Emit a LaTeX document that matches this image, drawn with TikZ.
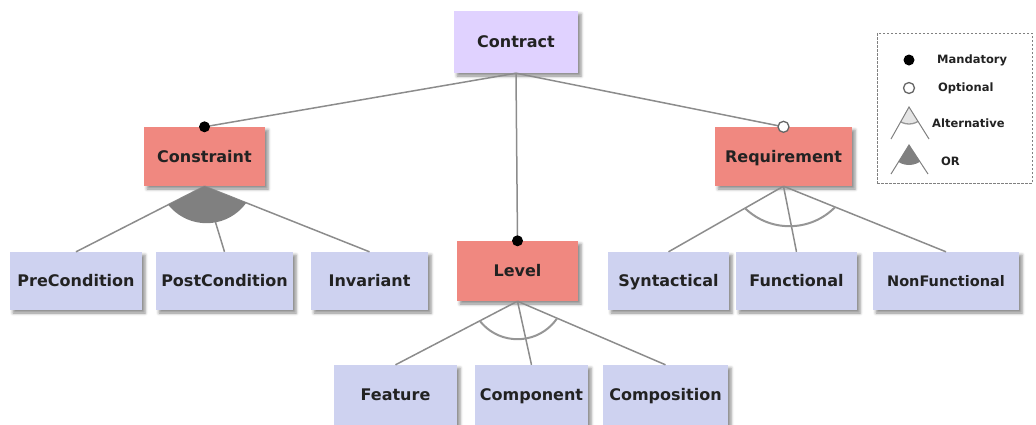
\documentclass[tikz,border=0pt]{standalone}
\usepackage{fontspec}
\setmainfont{DejaVu Sans}
\usetikzlibrary{shadows.blur}

\definecolor{rootfill}{RGB}{224,210,255}
\definecolor{featfill}{RGB}{240,136,128}
\definecolor{leaffill}{RGB}{206,210,240}
\definecolor{edgegray}{RGB}{140,140,140}
\definecolor{arcgray}{RGB}{150,150,150}
\definecolor{orgray}{RGB}{128,128,128}
\definecolor{txt}{RGB}{34,34,34}

\tikzset{
  box/.style={rectangle, inner sep=0pt, text=txt,
    font=\fontsize{16}{19}\selectfont\bfseries,
    text height=11.7pt, text depth=0pt,
    blur shadow={shadow xshift=3pt, shadow yshift=-3pt,
                 shadow blur radius=3pt, shadow opacity=45}},
  rootbox/.style={box, fill=rootfill},
  featbox/.style={box, fill=featfill},
  leafbox/.style={box, fill=leaffill},
  link/.style={draw=edgegray, line width=1.5pt},
  altarc/.style={draw=arcgray, line width=2pt},
  mand/.style={circle, fill=black, inner sep=0pt, minimum size=11pt},
  opt/.style={circle, fill=white, draw=gray!80!black, line width=1.3pt,
              inner sep=0pt, minimum size=11pt},
  legtext/.style={anchor=west, inner sep=0pt, text=txt,
                  font=\fontsize{11.5}{13}\selectfont\bfseries},
  legline/.style={draw=gray, line width=1pt},
}

\begin{document}
\begin{tikzpicture}[x=1pt, y=-1pt]
\useasboundingbox (0,0) rectangle (1036,424);

% ---- feature nodes
\node[rootbox, minimum width=124pt, minimum height=62pt] (contract) at (516,42) {Contract};

\node[featbox, minimum width=121pt, minimum height=59pt] (constraint) at (204.5,156.5) {Constraint};
\node[featbox, minimum width=137pt, minimum height=59pt] (requirement) at (783.5,156.5) {Requirement};
\node[featbox, minimum width=121pt, minimum height=60pt] (level) at (517.5,271) {Level};

\node[leafbox, minimum width=132pt, minimum height=58pt] (pre) at (76,281) {PreCondition};
\node[leafbox, minimum width=137pt, minimum height=58pt] (post) at (224.5,281) {PostCondition};
\node[leafbox, minimum width=117pt, minimum height=58pt] (inv) at (369.5,281) {Invariant};

\node[leafbox, minimum width=121pt, minimum height=58pt] (syn) at (668.5,281) {Syntactical};
\node[leafbox, minimum width=121pt, minimum height=58pt] (fun) at (796.5,281) {Functional};
\node[leafbox, minimum width=146pt, minimum height=58pt,
      font=\fontsize{14.5}{17}\selectfont\bfseries, text height=10.6pt] (nonfun) at (946,281) {NonFunctional};

\node[leafbox, minimum width=123pt, minimum height=60pt] (feature) at (395.5,395) {Feature};
\node[leafbox, minimum width=113pt, minimum height=60pt] (component) at (531.5,395) {Component};
\node[leafbox, minimum width=125pt, minimum height=60pt] (composition) at (665.5,395) {Composition};

% ---- links from the root
\draw[link] (contract.south) -- (constraint.north);
\draw[link] (contract.south) -- (requirement.north);
\draw[link] (contract.south) -- (level.north);
\node[mand] (mconstraint) at (constraint.north) {};
\node[mand] (mlevel) at (level.north) {};
\node[opt] (orequirement) at (requirement.north) {};

% ---- OR group under Constraint
\draw[link] (constraint.south) -- (pre.north);
\draw[link] (constraint.south) -- (post.north);
\draw[link] (constraint.south) -- (inv.north);
\begin{scope}
  \clip (constraint.south) -- (pre.north) -- (inv.north) -- cycle;
  \fill[orgray] ([xshift=2pt, yshift=12pt]constraint.south) circle[radius=49pt];
\end{scope}

% ---- alternative group under Level
\draw[link] (level.south) -- (feature.north);
\draw[link] (level.south) -- (component.north);
\draw[link] (level.south) -- (composition.north);
\begin{scope}
  \clip (level.south) -- (feature.north) -- (composition.north) -- cycle;
  \draw[altarc] ([yshift=10pt]level.south) circle[radius=48pt];
\end{scope}

% ---- alternative group under Requirement
\draw[link] (requirement.south) -- (syn.north);
\draw[link] (requirement.south) -- (fun.north);
\draw[link] (requirement.south) -- (nonfun.north);
\begin{scope}
  \clip (requirement.south) -- (syn.north) -- (nonfun.north) -- cycle;
  \draw[altarc] ([xshift=6pt, yshift=24pt]requirement.south) circle[radius=64pt];
\end{scope}

% ---- legend
\node[draw=gray, dashed, dash pattern=on 2.5pt off 1.5pt, line width=0.8pt,
      minimum width=155pt, minimum height=150pt, inner sep=0pt] (legend) at (954.5,108) {};

\node[mand] (lmand) at (909,60) {};
\node[legtext] (tmand) at (937,60) {Mandatory};
\node[opt] (lopt) at (909,88) {};
\node[legtext] (topt) at (938,88) {Optional};

\coordinate (altapex) at (909,107);
\coordinate (altleft) at (891,139);
\coordinate (altright) at (929,139);
\begin{scope}
  \clip (altapex) -- (altleft) -- (altright) -- cycle;
  \fill[gray!20] (altapex) circle[radius=17pt];
  \draw[arcgray, line width=1.3pt] (altapex) circle[radius=17pt];
\end{scope}
\draw[legline] (altleft) -- (altapex) -- (altright);
\node[legtext] (talt) at (932,123) {Alternative};

\coordinate (orapex) at (909,145);
\coordinate (orleft) at (891,174);
\coordinate (orright) at (928,174);
\begin{scope}
  \clip (orapex) -- (orleft) -- (orright) -- cycle;
  \fill[orgray] (orapex) circle[radius=20pt];
\end{scope}
\draw[legline] (orleft) -- (orapex) -- (orright);
\node[legtext] (tor) at (941,161) {OR};
\end{tikzpicture}
\end{document}
